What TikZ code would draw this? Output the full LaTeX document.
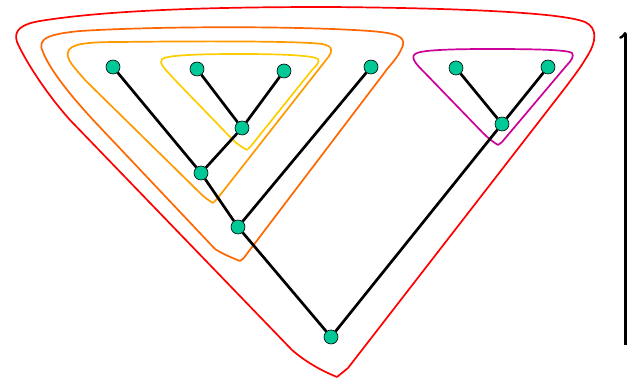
\documentclass[tikz,border=0pt]{standalone}
\usepackage{xcolor}
\usepackage{tikz}
\usetikzlibrary{positioning}
\definecolor{leafgreen}{RGB}{0,200,150}
\definecolor{cladered}{RGB}{255,0,0}
\definecolor{cladeorange}{RGB}{255,102,0}
\definecolor{cladeamber}{RGB}{255,153,0}
\definecolor{cladeyellow}{RGB}{255,204,0}
\definecolor{clademagenta}{RGB}{204,0,153}
\begin{document}
\begin{tikzpicture}[x=1pt, y=-1pt,
            vert/.style = {draw, circle, fill=leafgreen, inner sep=0pt, minimum size=14pt, line width=0.6pt},
            branch/.style = {line width=2.7pt, black},
            clade/.style = {line width=1.7pt}]
            \useasboundingbox (0,0) rectangle (627,379);
            % clades
            \draw[clade, cladered] (337,377) .. controls (320,370) and (306,362) .. (292,350) -- (70,120)
                .. controls (45,92) and (25,60) .. (17,42) .. controls (13,30) and (22,24) .. (40,21)
                .. controls (120,8) and (250,7) .. (330,7) .. controls (450,8) and (560,12) .. (585,22)
                .. controls (598,28) and (596,42) .. (588,55) .. controls (580,68) .. (565,88)
                -- (348,368) .. controls (343,373) .. (337,377);
            \draw[clade, cladeorange] (240,261) .. controls (230,257) and (223,254) .. (215,249) -- (95,122)
                .. controls (70,95) and (50,70) .. (43,52) .. controls (36,38) and (50,34) .. (80,31)
                .. controls (160,26) and (300,26) .. (370,31) .. controls (395,33) and (405,36) .. (403,45)
                .. controls (400,54) and (394,61) .. (388,68) -- (246,255) .. controls (244,258) .. (240,261);
            \draw[clade, cladeamber] (213,203) .. controls (208,200) and (204,197) .. (200,193) -- (85,80)
                .. controls (75,68) and (66,60) .. (68,52) .. controls (70,44) and (85,42) .. (120,42)
                .. controls (200,41) and (300,41) .. (322,44) .. controls (334,46) and (333,52) .. (326,60)
                -- (217,199) .. controls (215,201) .. (213,203);
            \draw[clade, cladeyellow] (247,150) .. controls (242,147) and (237,144) .. (233,140) -- (175,80)
                .. controls (166,70) and (158,63) .. (162,59) .. controls (168,55) and (200,54) .. (240,54)
                .. controls (290,54) and (314,56) .. (318,59) .. controls (320,62) and (317,65) .. (312,70)
                -- (251,146) .. controls (249,148) .. (247,150);
            \draw[clade, clademagenta] (498,145) .. controls (493,142) and (488,138) .. (483,133) -- (425,73)
                .. controls (417,65) and (410,58) .. (415,54) .. controls (420,50) and (450,49) .. (490,49)
                .. controls (540,49) and (568,50) .. (572,53) .. controls (574,56) and (572,60) .. (567,65)
                -- (502,142) .. controls (500,144) .. (498,145);
            % vertices
            \node (l1) [vert] at (113,67) {};
            \node (l2) [vert] at (197,69) {};
            \node (l3) [vert] at (284,71) {};
            \node (l4) [vert] at (371,67) {};
            \node (l5) [vert] at (456,68) {};
            \node (l6) [vert] at (548,67) {};
            \node (u23) [vert] at (242,128) {};
            \node (u123) [vert] at (201,173) {};
            \node (u1234) [vert] at (238,227) {};
            \node (u56) [vert] at (502,124) {};
            \node (root) [vert] at (331,337) {};
            % branches
            \draw[branch] (l2) -- (u23) -- (l3);
            \draw[branch] (l1) -- (u123) -- (u23);
            \draw[branch] (u123) -- (u1234) -- (l4);
            \draw[branch] (l5) -- (u56) -- (l6);
            \draw[branch] (u1234) -- (root) -- (u56);
            % axis
            \coordinate (abot) at (625,345);
            \coordinate (atop) at (625,32);
            \draw[line width=3pt, ->] (abot) -- (atop);
\end{tikzpicture}
\end{document}
